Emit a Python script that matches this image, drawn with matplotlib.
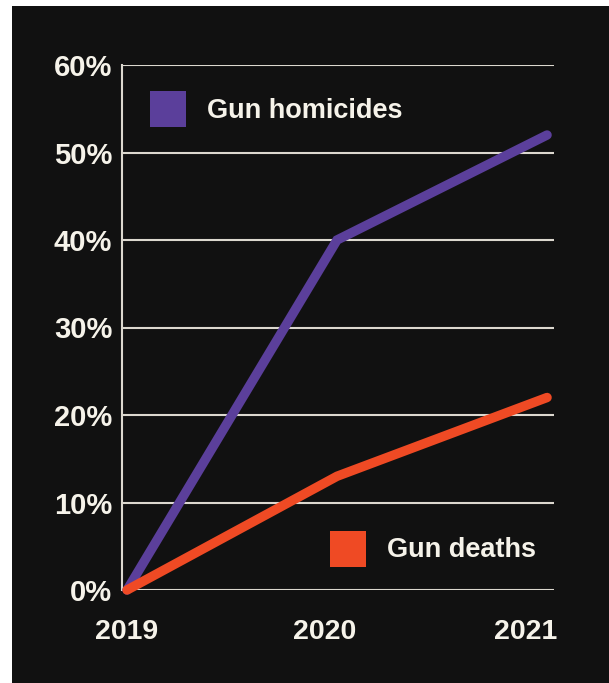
import matplotlib
matplotlib.use("Agg")
import matplotlib.pyplot as plt
from matplotlib.patches import Rectangle
import matplotlib.transforms as mtransforms

years = ["2019", "2020", "2021"]
homicides = [0, 40, 52]
deaths = [0, 13, 22]
yticks = [0, 10, 20, 30, 40, 50, 60]
ytick_labels = ["0%", "10%", "20%", "30%", "40%", "50%", "60%"]
series_names = ["Gun homicides", "Gun deaths"]

W, H = 609, 683
BG = "#111111"
TXT = "#f6f3ea"
GRID = "#dcd8cf"
PURPLE = "#5b3f9b"
RED = "#ef4a24"
FONT = "Liberation Sans"
FS = 19.5
FS_Y = 21
FS_X = 20.5

fig = plt.figure(figsize=(W / 100, H / 100), dpi=100)
fig.patch.set_facecolor("white")
fig.patches.append(Rectangle((12 / W, 0), 1 - 12 / W, 1 - 6 / H, transform=fig.transFigure,
                             facecolor=BG, edgecolor="none", zorder=-10))

def px(x0, y0, x1, y1):
    return [x0 / W, 1 - y1 / H, (x1 - x0) / W, (y1 - y0) / H]

ax = fig.add_axes(px(122, 65, 554, 590))
ax.set_zorder(2)
ax.set_facecolor("none")
xs = list(range(len(years)))
ax.set_xlim(-0.024, 2.033)
ax.set_ylim(0, 60)

for y in yticks:
    ax.axhline(y, color=GRID, lw=1.5, zorder=1)
for s in ["top", "right", "bottom"]:
    ax.spines[s].set_visible(False)
ax.spines["left"].set_color(GRID)
ax.spines["left"].set_linewidth(1.5)

ax.plot(xs, homicides, color=PURPLE, lw=6.8, solid_capstyle="round", solid_joinstyle="miter",
        clip_on=False, zorder=3)
ax.plot(xs, deaths, color=RED, lw=6.8, solid_capstyle="round", solid_joinstyle="miter",
        clip_on=False, zorder=4)

ax.set_yticks(yticks)
ax.set_yticklabels(ytick_labels)
ax.tick_params(axis="y", length=0, pad=7, labelcolor=TXT, labelsize=FS_Y)
for lbl in ax.get_yticklabels():
    lbl.set_fontfamily(FONT)
    lbl.set_fontweight("bold")
ax.set_xticks([])

# x labels
trans = mtransforms.blended_transform_factory(ax.transData, fig.transFigure)
offsets = [(0, "center"), (-12, "center"), (10, "right")]
for i, (lab, (dx, ha)) in enumerate(zip(years, offsets)):
    ax.text(xs[i], 1 - 632 / H, lab, transform=trans + mtransforms.Affine2D().translate(dx, 0),
            ha=ha, va="center", color=TXT, fontsize=FS_X, fontweight="bold", fontfamily=FONT,
            clip_on=False)

# legend
fig.patches.append(Rectangle((150 / W, 1 - 127 / H), 36 / W, 36 / H, transform=fig.transFigure,
                             facecolor=PURPLE, edgecolor="none", zorder=5))
fig.text(207 / W, 1 - 111 / H, series_names[0], color=TXT, fontsize=FS, fontweight="bold",
         fontfamily=FONT, ha="left", va="center")
fig.patches.append(Rectangle((330 / W, 1 - 567 / H), 36 / W, 36 / H, transform=fig.transFigure,
                             facecolor=RED, edgecolor="none", zorder=5))
fig.text(387 / W, 1 - 550 / H, series_names[1], color=TXT, fontsize=FS, fontweight="bold",
         fontfamily=FONT, ha="left", va="center")

fig.savefig("out.png", dpi=100, facecolor=fig.get_facecolor())
